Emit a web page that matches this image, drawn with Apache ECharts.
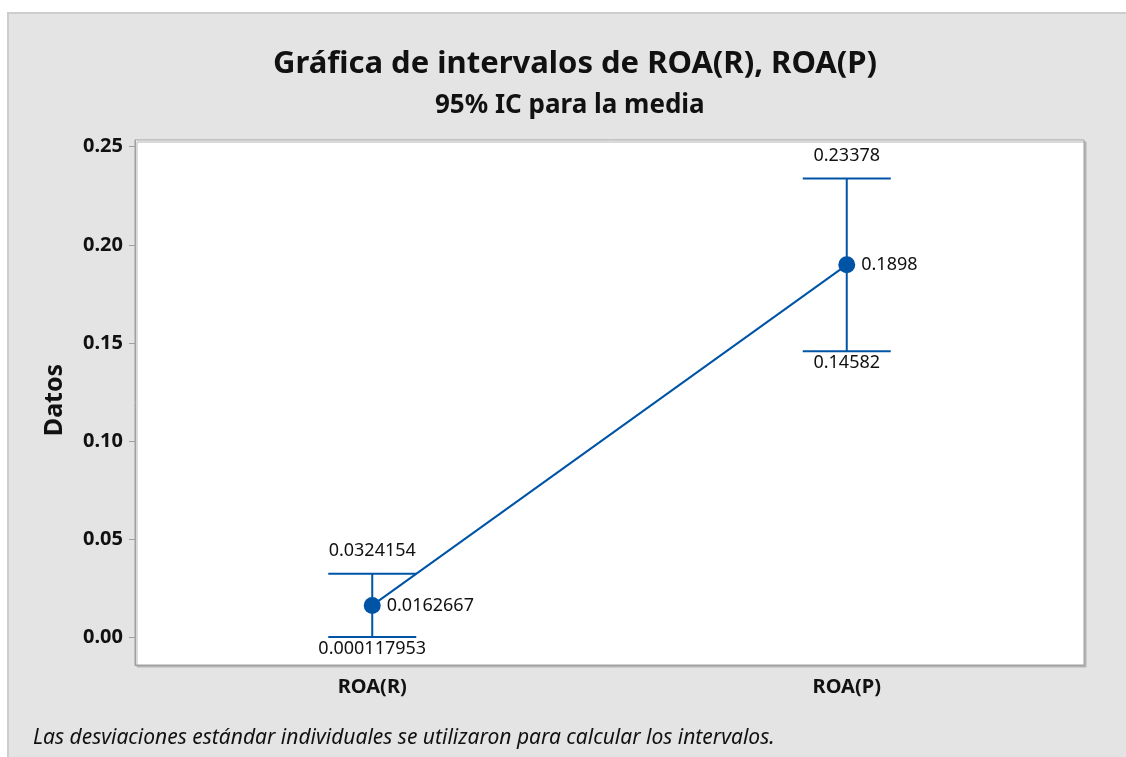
<!DOCTYPE html>
<html>
<head>
<meta charset="utf-8">
<script src="https://cdn.jsdelivr.net/npm/echarts@6/dist/echarts.min.js"></script>
<style>
  html, body { margin: 0; padding: 0; background: #fff; }
  #wrap { position: relative; width: 1126px; height: 757px; overflow: hidden; }
  #panel {
    position: absolute; left: 7px; top: 12px; width: 1140px; height: 770px;
    background: #e4e4e4; border-top: 2px solid #cdcdcd; border-left: 2px solid #cdcdcd;
  }
  #chart { position: absolute; left: 0; top: 0; width: 1126px; height: 757px; }
</style>
</head>
<body>
<div id="wrap">
  <div id="panel"></div>
  <div id="chart"></div>
</div>
<script>
// data
const categories = ['ROA(R)', 'ROA(P)']
const means = [0.0162667, 0.1898]
const lowers = [0.000117953, 0.14582]
const uppers = [0.0324154, 0.23378]
const yTicks = [0, 0.05, 0.1, 0.15, 0.2, 0.25]

const BLUE = '#0054a6'
const FONT = "'Noto Sans', 'Open Sans', sans-serif"

const chart = echarts.init(document.getElementById('chart'), undefined, { renderer: 'canvas' })

const intervalData = categories.map((c, i) => [i, lowers[i], uppers[i]])

function renderInterval(params, api) {
  const x = api.value(0)
  const lo = api.coord([x, api.value(1)])
  const hi = api.coord([x, api.value(2)])
  const half = 44
  const style = { stroke: BLUE, lineWidth: 2 }
  const txt = (s, y, va) => ({
    type: 'text',
    style: { text: s, x: lo[0], y, align: 'center', verticalAlign: va, font: `18px ${FONT}`, fill: '#111' },
  })
  return {
    type: 'group',
    children: [
      { type: 'line', shape: { x1: lo[0], y1: lo[1], x2: hi[0], y2: hi[1] }, style },
      { type: 'line', shape: { x1: lo[0] - half, y1: lo[1], x2: lo[0] + half, y2: lo[1] }, style },
      { type: 'line', shape: { x1: hi[0] - half, y1: hi[1], x2: hi[0] + half, y2: hi[1] }, style },
      txt(String(api.value(2)), hi[1] - 14, 'bottom'),
      txt(String(api.value(1)), lo[1] + 3, 'top'),
    ],
  }
}

chart.setOption({
  backgroundColor: 'transparent',
  animation: false,
  title: [
    {
      text: 'Gráfica de intervalos de ROA(R), ROA(P)',
      left: 268,
      top: 44,
      textStyle: { fontFamily: FONT, fontSize: 31, fontWeight: 'bold', color: '#111' },
    },
    {
      text: '95% IC para la media',
      left: 430,
      top: 88,
      textStyle: { fontFamily: FONT, fontSize: 26, fontWeight: 'bold', color: '#111' },
    },
  ],
  graphic: [
    {
      type: 'text',
      x: 55,
      y: 400,
      rotation: Math.PI / 2,
      style: { text: 'Datos', align: 'center', verticalAlign: 'middle', font: `bold 25px ${FONT}`, fill: '#111' },
    },
    {
      type: 'text',
      x: 33,
      y: 738,
      style: {
        text: 'Las desviaciones estándar individuales se utilizaron para calcular los intervalos.',
        verticalAlign: 'middle',
        font: `italic 21px ${FONT}`,
        fill: '#111',
      },
    },
  ],
  grid: {
    left: 135,
    top: 140,
    right: 42,
    bottom: 92,
    show: true,
    backgroundColor: '#fff',
    borderColor: '#a0a0a0',
    borderWidth: 1,
    shadowColor: '#b4b4b4',
    shadowOffsetX: 2,
    shadowOffsetY: 2,
    shadowBlur: 0,
  },
  xAxis: {
    type: 'category',
    data: categories,
    boundaryGap: true,
    axisLine: { onZero: false, lineStyle: { color: '#a0a0a0' } },
    axisTick: { alignWithLabel: true, length: 6, lineStyle: { color: '#a0a0a0' } },
    axisLabel: { color: '#111', fontFamily: FONT, fontSize: 20, fontWeight: 'bold', margin: 12 },
    splitLine: { show: false },
  },
  yAxis: {
    type: 'value',
    min: -0.0141,
    max: 0.2534,
    axisLine: { show: true, lineStyle: { color: '#a0a0a0' } },
    axisTick: { show: true, length: 6, customValues: yTicks, lineStyle: { color: '#a0a0a0' } },
    axisLabel: {
      customValues: yTicks,
      formatter: (v) => v.toFixed(2),
      color: '#111',
      fontFamily: FONT,
      fontSize: 20,
      fontWeight: 'bold',
      margin: 12,
    },
    splitLine: { show: false },
  },
  series: [
    {
      type: 'custom',
      renderItem: renderInterval,
      data: intervalData,
      encode: { x: 0, y: [1, 2] },
      z: 2,
    },
    {
      type: 'line',
      data: means,
      symbol: 'circle',
      symbolSize: 17,
      itemStyle: { color: BLUE },
      lineStyle: { color: BLUE, width: 2 },
      label: {
        show: true,
        position: 'right',
        distance: 6,
        formatter: (p) => String(p.value),
        color: '#111',
        fontFamily: FONT,
        fontSize: 18,
      },
      z: 3,
    },
  ],
})
</script>
</body>
</html>
